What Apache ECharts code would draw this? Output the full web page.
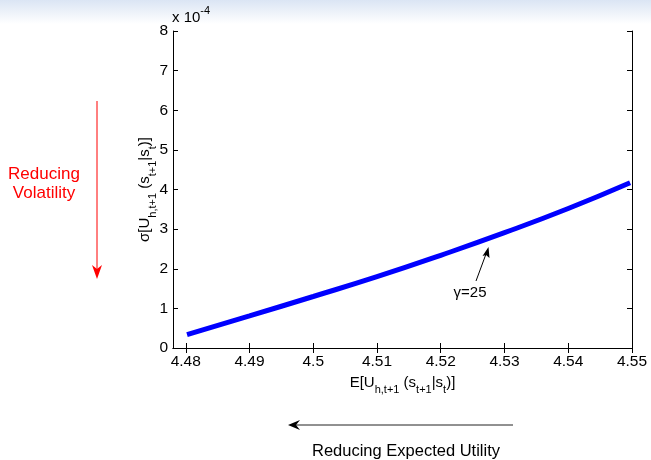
<!DOCTYPE html>
<html>
<head>
<meta charset="utf-8">
<script src="https://cdn.jsdelivr.net/npm/echarts@6/dist/echarts.min.js"></script>
<style>
  html, body { margin: 0; padding: 0; background: #fff; }
  #chart { width: 651px; height: 460px; }
</style>
</head>
<body>
<div id="chart"></div>
<script>
// frontier (x = expected utility, y = volatility in 1e-4)
const expUtility = [4.4802, 4.49, 4.50, 4.51, 4.52, 4.53, 4.54, 4.5497];
const volatility = [0.34, 0.81, 1.30, 1.80, 2.34, 2.91, 3.52, 4.17];
const xTicks = [4.48, 4.49, 4.5, 4.51, 4.52, 4.53, 4.54, 4.55];

const font = 'Arial, "Liberation Sans", sans-serif';
const subRich = {
  b: { fontSize: 15, lineHeight: 26, color: '#000', fontFamily: font },
  s: { fontSize: 11, lineHeight: 13, verticalAlign: 'bottom', color: '#000', fontFamily: font }
};

const chart = echarts.init(document.getElementById('chart'));

const baseX = {
  type: 'value', min: 4.478, max: 4.55,
  axisLine: { lineStyle: { color: '#000' } },
  splitLine: { show: false },
  axisTick: { inside: true, length: 5, customValues: xTicks, lineStyle: { color: '#000' } }
};
const baseY = {
  type: 'value', min: 0, max: 8, interval: 1,
  axisLine: { show: true, lineStyle: { color: '#000' } },
  splitLine: { show: false },
  axisTick: { show: true, inside: true, length: 5, lineStyle: { color: '#000' } }
};

chart.setOption({
  animation: false,
  grid: { left: 173, right: 19, top: 31, bottom: 112 },
  xAxis: [
    Object.assign({}, baseX, {
      position: 'bottom',
      axisLabel: { customValues: xTicks, color: '#000', fontSize: 15.5, fontFamily: font, margin: 6 },
      name: '{b|E[U}{s|h,t+1}{b| (s}{s|t+1}{b||s}{s|t}{b|)]}',
      nameLocation: 'middle', nameGap: 19,
      nameTextStyle: { rich: subRich }
    }),
    Object.assign({}, baseX, { position: 'top', axisLabel: { show: false } })
  ],
  yAxis: [
    Object.assign({}, baseY, {
      position: 'left',
      axisLabel: { color: '#000', fontSize: 15.5, fontFamily: font, margin: 5 },
      name: '{b|σ[U}{s|h,t+1}{b| (s}{s|t+1}{b||s}{s|t}{b|)]}',
      nameLocation: 'middle', nameGap: 15, nameMoveOverlap: false,
      nameTextStyle: { rich: subRich }
    }),
    Object.assign({}, baseY, { position: 'right', axisLabel: { show: false } })
  ],
  series: [{
    type: 'line',
    data: expUtility.map((x, i) => [x, volatility[i]]),
    smooth: true,
    showSymbol: false,
    lineStyle: { color: '#0000ff', width: 5 }
  }],
  graphic: [
    {
      type: 'rect', z: -10, shape: { x: 0, y: 0, width: 651, height: 24 },
      style: { fill: new echarts.graphic.LinearGradient(0, 0, 0, 1, [
        { offset: 0, color: '#dbe5f4' }, { offset: 1, color: '#ffffff' }]) }
    },
    {
      type: 'text', left: 172, top: 5,
      style: {
        text: '{b|x 10}{p|-4}',
        rich: {
          b: { fontSize: 15, lineHeight: 26, color: '#000', fontFamily: font },
          p: { fontSize: 11, lineHeight: 13, verticalAlign: 'top', color: '#000', fontFamily: font }
        }
      }
    },
    // red volatility arrow
    { type: 'line', shape: { x1: 97, y1: 101, x2: 97, y2: 272 }, style: { stroke: '#ff0000', lineWidth: 1 } },
    { type: 'polygon', shape: { points: [[92, 265], [97, 279], [102, 265], [97, 269]] }, style: { fill: '#ff0000' } },
    {
      type: 'text', x: 44, y: 184,
      style: { text: 'Reducing\nVolatility', fill: '#ff0000', fontSize: 17, fontFamily: font,
        align: 'center', verticalAlign: 'middle', lineHeight: 19 }
    },
    // expected utility arrow
    { type: 'line', shape: { x1: 294, y1: 425, x2: 513, y2: 425 }, style: { stroke: '#222', lineWidth: 1 } },
    { type: 'polygon', shape: { points: [[288, 425], [300, 420], [296, 425], [300, 430]] }, style: { fill: '#000' } },
    {
      type: 'text', x: 406, y: 451,
      style: { text: 'Reducing Expected Utility', fill: '#000', fontSize: 16.5, fontFamily: font,
        align: 'center', verticalAlign: 'middle' }
    },
    // gamma annotation
    { type: 'line', shape: { x1: 476, y1: 281, x2: 486, y2: 254 }, style: { stroke: '#000', lineWidth: 1 } },
    { type: 'polygon', shape: { points: [[488.5, 247], [489.5, 258], [486, 255], [482.5, 256]] }, style: { fill: '#000' } },
    {
      type: 'text', x: 470, y: 293,
      style: { text: 'γ=25', fill: '#000', fontSize: 15, fontFamily: font,
        align: 'center', verticalAlign: 'middle' }
    }
  ]
});
</script>
</body>
</html>
